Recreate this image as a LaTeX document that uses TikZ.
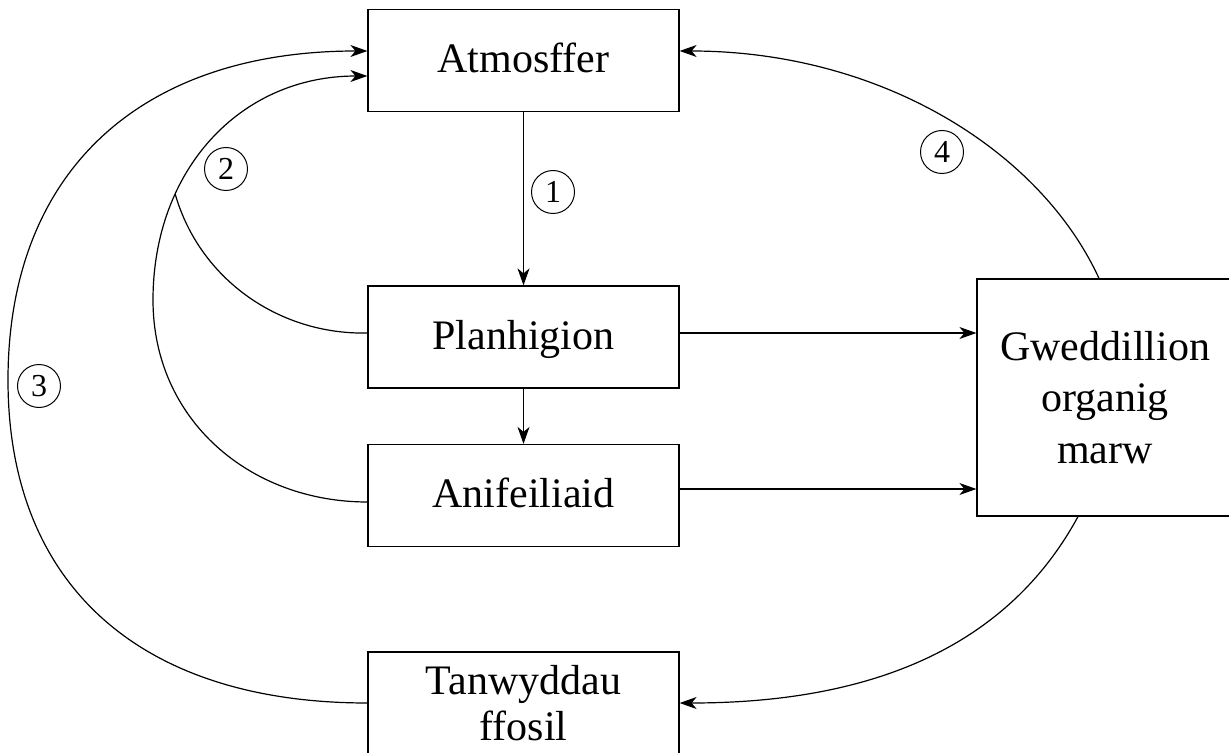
\documentclass[tikz,border=0pt]{standalone}
\usepackage{fontspec}
\setmainfont{Liberation Serif}
\usetikzlibrary{arrows.meta,calc}
\begin{document}
\begin{tikzpicture}[x=0.5pt,y=-0.5pt,
  box/.style={draw, line width=0.6pt, inner sep=0pt, minimum width=155.5pt, minimum height=51pt,
    font=\fontsize{21}{23}\selectfont, align=center},
  onebox/.style={box, text height=15pt, text depth=3pt},
  num/.style={draw, circle, line width=0.5pt, inner sep=0pt, minimum size=21.5pt, font=\fontsize{16}{16}\selectfont},
  arr/.style={line width=0.6pt, -{Stealth[length=8.5pt,width=6pt,inset=2.5pt]}},
  lin/.style={line width=0.6pt}]
\path[use as bounding box, fill=white] (0,0) rectangle (1229,753);

\node[onebox] (atm) at (523.5,60.5) {Atmosffer};
\node[onebox] (pla) at (523.5,337) {Planhigion};
\node[onebox] (ani) at (523.5,495.5) {Anifeiliaid};
\node[box, font=\fontsize{21}{23}\selectfont] (tan) at (523.5,703) {Tanwyddau\\ffosil};
\node[box, minimum width=128pt, minimum height=118.5pt, font=\fontsize{21}{25.75}\selectfont] (gwe) at (1105,397.5) {Gweddillion\\organig\\marw};

\node[num] (n1) at (553,192) {1};
\node[num] (n2) at (226,169) {2};
\node[num] (n3) at (39,386) {3};
\node[num] (n4) at (942,152) {4};

\coordinate (a3) at ([yshift=4.75pt]atm.west);
\coordinate (a2) at ([yshift=-7.75pt]atm.west);
\coordinate (a4) at ([yshift=4.75pt]atm.east);

% 1
\draw[arr] (atm.south) -- (pla.north);
\draw[arr] (pla.south) -- (ani.north);
\draw[arr] ([yshift=2pt]pla.east) -- ([yshift=2pt]pla.east -| gwe.west);
\draw[arr] ([yshift=3.25pt]ani.east) -- ([yshift=3.25pt]ani.east -| gwe.west);

% 3
\draw[arr] (tan.west) .. controls (140,703) and (8,585) .. (8,380)
  .. controls (8,172) and (140,51) .. (a3);

% 2
\draw[arr] ([yshift=-3.25pt]ani.west) .. controls (250,502) and (153,420) .. (153,300)
  .. controls (153,170) and (240,76) .. (a2) coordinate[pos=0.3] (j2);
\draw[lin] ([yshift=2pt]pla.west) .. controls (280,335) and (200,280) .. (j2);

% 4
\draw[arr] ([xshift=-3pt]gwe.north) .. controls (1040,150) and (880,51) .. (a4);

% to fossil fuels
\draw[arr] ([xshift=-13.5pt]gwe.south) .. controls (1000,660) and (850,703) .. (tan.east);
\end{tikzpicture}
\end{document}
